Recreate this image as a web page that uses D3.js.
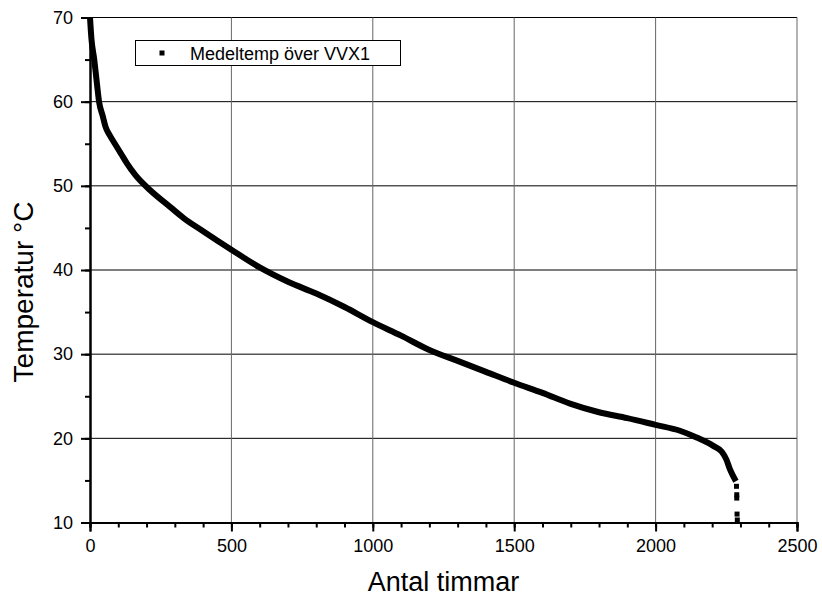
<!DOCTYPE html>
<html>
<head>
<meta charset="utf-8">
<script src="https://cdn.jsdelivr.net/npm/d3@7"></script>
<style>
  body { margin: 0; background: #fff; }
  text { font-family: Arial, "Liberation Sans", sans-serif; fill: #000; }
</style>
</head>
<body>
<svg class="visuals" width="822" height="600"></svg>
<script>
// hours (x) and mean temperature (y)
var hours = [0, 5, 15, 25, 32, 45, 55, 70, 88, 110, 130, 160, 212, 283, 330, 400, 500, 600, 700, 800, 900,
             1000, 1100, 1200, 1300, 1400, 1500, 1600, 1700, 1800, 1900, 2000, 2086, 2145, 2204, 2234,
             2250, 2263, 2284];
var temps = [70, 67.5, 65, 62, 60, 58.3, 57, 56, 55, 53.8, 52.7, 51.3, 49.5, 47.5, 46.2, 44.6, 42.4, 40.3, 38.6, 37.2, 35.6,
             33.8, 32.2, 30.5, 29.2, 27.9, 26.6, 25.4, 24.1, 23.1, 22.4, 21.6, 20.9, 20.1, 19.1, 18.4,
             17.5, 16.3, 14.9];
// the few scattered points at the very end
var tailHours = [2286, 2287, 2287, 2288, 2289];
var tailTemps = [14.3, 13.3, 12.9, 11.0, 10.3];

var xTicks = [0, 500, 1000, 1500, 2000, 2500];
var yTicks = [10, 20, 30, 40, 50, 60, 70];
var seriesName = 'Medeltemp över VVX1';

var Chart = (function(){
  return function(selector){
    var svg = d3.select(selector);
    var left = 90, right = 797, top = 17.5, bottom = 522.5;

    var x = d3.scaleLinear().domain([0, 2500]).range([left, right]);
    var y = d3.scaleLinear().domain([10, 70]).range([bottom, top]);

    // grid
    svg.append('g').selectAll('line')
      .data(yTicks.slice(1))
      .enter().append('line')
        .attr('x1', left).attr('x2', right)
        .attr('y1', function(d){ return y(d); })
        .attr('y2', function(d){ return y(d); })
        .style('stroke', '#000')
        .style('stroke-width', '1px');

    svg.append('g').selectAll('line')
      .data(xTicks.slice(1))
      .enter().append('line')
        .attr('y1', top).attr('y2', bottom)
        .attr('x1', function(d){ return x(d); })
        .attr('x2', function(d){ return x(d); })
        .style('stroke', '#666')
        .style('stroke-width', '1px');

    // axes: minor ticks first, then major ticks with labels
    var xMinor = d3.axisBottom(x).tickValues(d3.range(0, 2501, 100)).tickSize(5).tickFormat('');
    var xMajor = d3.axisBottom(x).tickValues(xTicks).tickSize(9).tickPadding(8).tickFormat(d3.format('d'));
    var yMinor = d3.axisLeft(y).tickValues(d3.range(10, 71, 5)).tickSize(5).tickFormat('');
    var yMajor = d3.axisLeft(y).tickValues(yTicks).tickSize(9).tickPadding(8).tickFormat(d3.format('d'));

    var gx = svg.append('g').attr('transform', 'translate(0,' + bottom + ')');
    gx.append('g').call(xMinor);
    gx.append('g').call(xMajor);
    var gy = svg.append('g').attr('transform', 'translate(' + left + ',0)');
    gy.append('g').call(yMinor);
    gy.append('g').call(yMajor);

    svg.selectAll('.domain').style('stroke', '#000').style('stroke-width', '2px');
    svg.selectAll('.tick line').style('stroke', '#000').style('stroke-width', '2px');
    svg.selectAll('.tick text')
      .style('font-size', '18px')
      .style('font-family', 'Arial, "Liberation Sans", sans-serif');

    // curve
    var pts = hours.map(function(h, i){ return [h, temps[i]]; });
    var line = d3.line()
      .x(function(d){ return x(d[0]); })
      .y(function(d){ return y(d[1]); })
      .curve(d3.curveMonotoneX);

    svg.append('path')
      .datum(pts)
      .attr('d', line)
      .style('fill', 'none')
      .style('stroke', '#000')
      .style('stroke-width', '6px')
      .style('stroke-linejoin', 'round');

    svg.append('g').selectAll('rect')
      .data(tailHours)
      .enter().append('rect')
        .attr('x', function(d){ return x(d) - 2.5; })
        .attr('y', function(d, i){ return y(tailTemps[i]) - 2.5; })
        .attr('width', 5)
        .attr('height', 5)
        .style('fill', '#000');

    // legend
    var lg = svg.append('g');
    lg.append('rect')
      .attr('x', 135.5).attr('y', 40.5)
      .attr('width', 265).attr('height', 25)
      .style('fill', '#fff')
      .style('stroke', '#000')
      .style('stroke-width', '1px');
    lg.append('rect')
      .attr('x', 159.5).attr('y', 50.5)
      .attr('width', 5).attr('height', 5)
      .style('fill', '#000');
    lg.append('text')
      .text(seriesName)
      .attr('x', 190)
      .attr('y', 59.5)
      .style('font-size', '18px');

    // axis titles
    svg.append('text')
      .text('Antal timmar')
      .attr('x', (left + right) / 2)
      .attr('y', 591)
      .attr('text-anchor', 'middle')
      .style('font-size', '27px');

    svg.append('text')
      .text('Temperatur °C')
      .attr('transform', 'rotate(-90)')
      .attr('x', -292)
      .attr('y', 33)
      .attr('text-anchor', 'middle')
      .style('font-size', '28px');
  };
}());

document.addEventListener('DOMContentLoaded', function () {
  var chart = new Chart('.visuals');
});
</script>
</body>
</html>
